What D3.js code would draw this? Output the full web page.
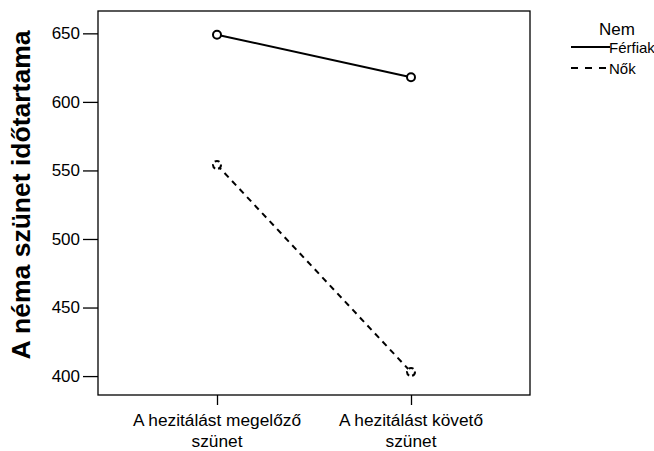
<!DOCTYPE html>
<html><head><meta charset="utf-8">
<script src="https://cdn.jsdelivr.net/npm/d3@7"></script>
<style>body{margin:0;background:#fff}svg{display:block}</style>
</head><body>
<svg id="c" width="654" height="451"></svg>
<script>
const categories = [["A hezitálást megelőző","szünet"],["A hezitálást követő","szünet"]];
const catKeys = ["pre","post"];
const seriesNames = ["Férfiak","Nők"];
const ferfiak = [649, 618];
const nok = [554, 403];
const yTicks = [400,450,500,550,600,650];
const yTitle = "A néma szünet időtartama";
const legendTitle = "Nem";

const svg = d3.select("#c");
const L=98,R=530,T=11,B=395;
const x = d3.scalePoint().domain(catKeys).range([L,R]).padding(0.6134);
const y = d3.scaleLinear().domain([386.2,666.3]).range([B,T]);
const font = "'Liberation Sans', Arial, sans-serif";

// frame
svg.append("rect").attr("x",L).attr("y",T).attr("width",R-L).attr("height",B-T)
  .attr("fill","none").attr("stroke","#000").attr("stroke-width",1.3);

// y axis
const ya = svg.append("g").attr("transform",`translate(${L},0)`)
  .call(d3.axisLeft(y).tickValues(yTicks).tickSize(15).tickPadding(3));
ya.select(".domain").remove();
ya.selectAll("line").attr("stroke","#000").attr("stroke-width",1.3);
ya.selectAll("text").attr("font-family",font).attr("font-size",17).attr("fill","#000");

// x axis
const xa = svg.append("g").attr("transform",`translate(0,${B})`)
  .call(d3.axisBottom(x).tickSize(10).tickFormat(""));
xa.select(".domain").remove();
xa.selectAll("line").attr("stroke","#000").attr("stroke-width",1.3);
catKeys.forEach((k,i)=>{
  const t = svg.append("text").attr("font-family",font).attr("font-size",17.3)
    .attr("text-anchor","middle").attr("fill","#000");
  categories[i].forEach((ln,j)=>{
    t.append("tspan").attr("x",x(k)).attr("y",426+j*21).text(ln);
  });
});

// y title
svg.append("text").attr("transform",`translate(30,195) rotate(-90)`)
  .attr("text-anchor","middle").attr("font-family",font).attr("font-weight","bold")
  .attr("font-size",26.5).attr("fill","#000").text(yTitle);

// series
const series = [
  {name:seriesNames[0], vals:ferfiak, dash:null},
  {name:seriesNames[1], vals:nok, dash:"6,5"}
];
const line = d3.line().x((d,i)=>x(catKeys[i])).y(d=>y(d));
series.forEach(s=>{
  svg.append("path").datum(s.vals).attr("d",line).attr("fill","none")
    .attr("stroke","#000").attr("stroke-width",2).attr("stroke-dasharray",s.dash);
  svg.selectAll(null).data(s.vals).enter().append("circle")
    .attr("cx",(d,i)=>x(catKeys[i])).attr("cy",d=>y(d)).attr("r",4)
    .attr("fill","#fff").attr("stroke","#000").attr("stroke-width",2)
    .attr("stroke-dasharray",s.dash?"5,3":null);
});

// legend
svg.append("text").attr("x",617).attr("y",35).attr("text-anchor","middle")
  .attr("font-family",font).attr("font-size",17).attr("fill","#000").text(legendTitle);
series.forEach((s,i)=>{
  const yy = 47 + i*21;
  svg.append("line").attr("x1",571).attr("x2",610).attr("y1",yy).attr("y2",yy)
    .attr("stroke","#000").attr("stroke-width",2).attr("stroke-dasharray",s.dash?"7,7":null);
  svg.append("text").attr("x",609).attr("y",yy+5.5).attr("font-family",font)
    .attr("font-size",15).attr("fill","#000").text(s.name);
});
</script>
</body></html>
